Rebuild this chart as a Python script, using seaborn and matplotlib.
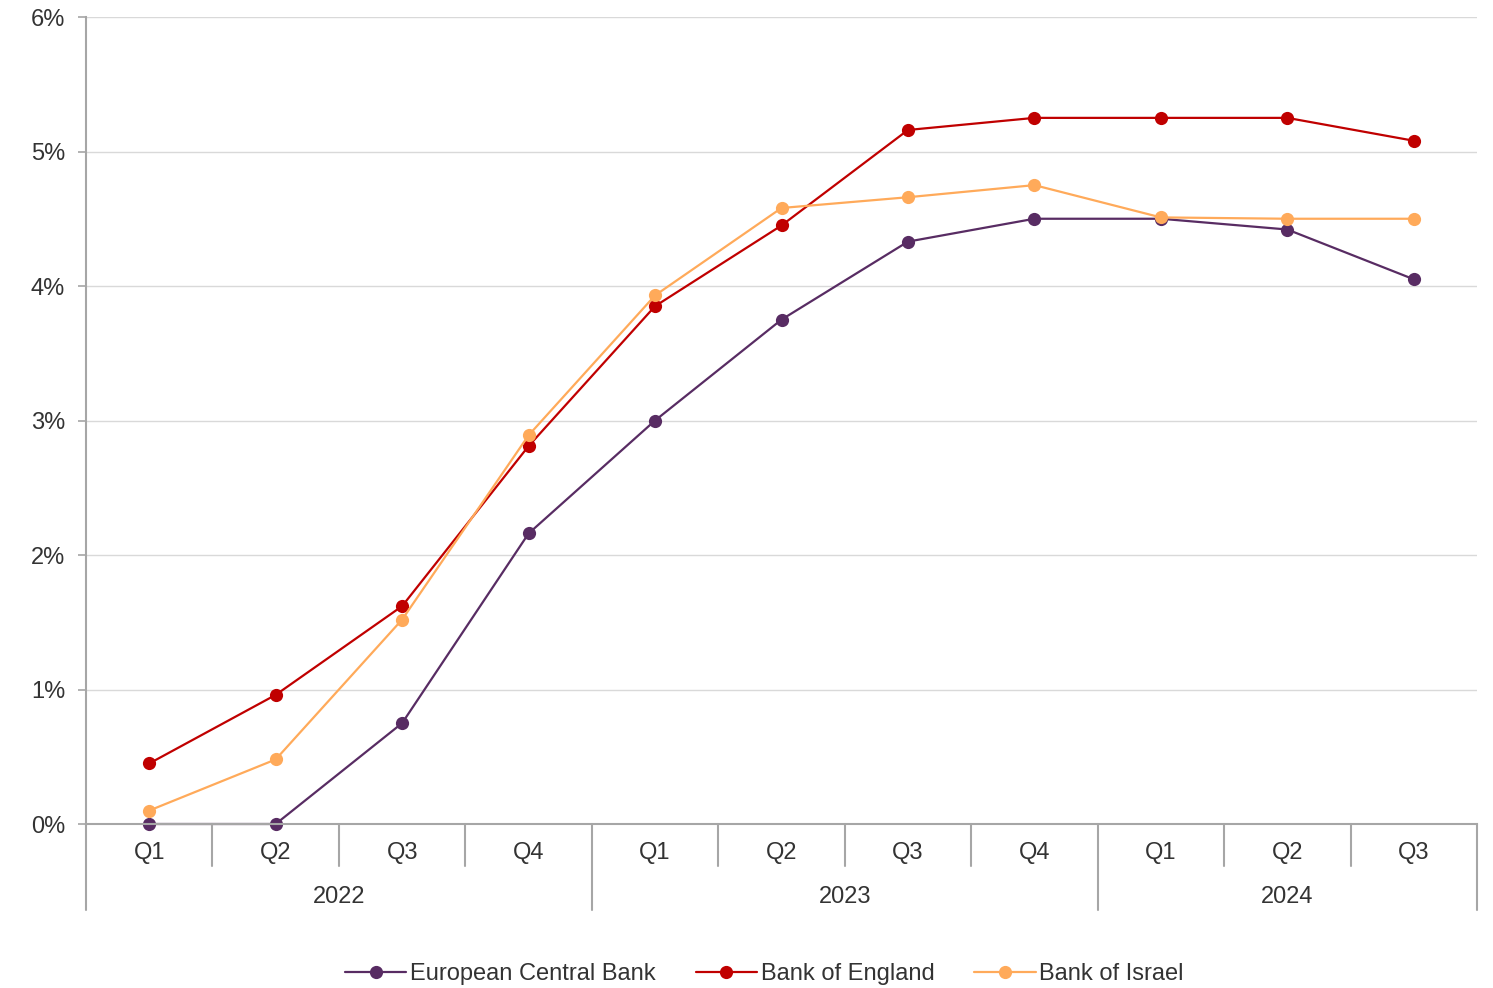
import numpy as np
import pandas as pd
import matplotlib
matplotlib.use('Agg')
import matplotlib.pyplot as plt
import seaborn as sns

# data
quarters = ['Q1', 'Q2', 'Q3', 'Q4', 'Q1', 'Q2', 'Q3', 'Q4', 'Q1', 'Q2', 'Q3']
years = ['2022', '2023', '2024']
year_spans = [4, 4, 3]
ecb = [0.00, 0.00, 0.75, 2.16, 3.00, 3.75, 4.33, 4.50, 4.50, 4.42, 4.05]
boe = [0.45, 0.96, 1.62, 2.81, 3.85, 4.45, 5.16, 5.25, 5.25, 5.25, 5.08]
boi = [0.10, 0.48, 1.52, 2.89, 3.93, 4.58, 4.66, 4.75, 4.51, 4.50, 4.50]
series_names = ['European Central Bank', 'Bank of England', 'Bank of Israel']
colors = ['#582C63', '#C00000', '#FFAA5A']

idx = np.arange(len(quarters))
df = pd.concat([
    pd.DataFrame({'x': idx, 'rate': vals, 'bank': name})
    for name, vals in zip(series_names, [ecb, boe, boi])
])

sns.set_style('white')
plt.rcParams['font.family'] = ['Liberation Sans', 'DejaVu Sans']
fs = 17

fig = plt.figure(figsize=(14.93, 9.88), dpi=100)
ax = fig.add_axes([86 / 1493, 1 - 824 / 988, (1477 - 86) / 1493, (824 - 17) / 988])

sns.lineplot(data=df, x='x', y='rate', hue='bank', palette=colors,
             marker='o', markersize=9.5, markeredgewidth=0, linewidth=1.6,
             ax=ax, legend=False)
for ln in ax.lines:
    ln.set_clip_on(False)

ax.set_xlim(-0.5, len(quarters) - 0.5)
ax.set_ylim(0, 6)
ax.set_yticks(range(0, 7))
ax.set_yticklabels([f'{v}%' for v in range(0, 7)], fontsize=fs, color='#333333')
ax.tick_params(axis='y', length=6, width=1.2, color='#A6A6A6', pad=9, left=True)
ax.set_xticks([])
ax.set_xlabel('')
ax.set_ylabel('')
ax.grid(axis='y', color='#D9D9D9', linewidth=1)
ax.set_axisbelow(True)
for s in ['top', 'right']:
    ax.spines[s].set_visible(False)
ax.spines['left'].set_color('#A6A6A6')
ax.spines['left'].set_linewidth(1.5)
ax.spines['bottom'].set_color('#A6A6A6')
ax.spines['bottom'].set_linewidth(1.5)

trans = ax.get_xaxis_transform()
# quarter labels
for i, q in enumerate(quarters):
    ax.text(i, -0.0365, q, transform=trans, ha='center', va='center',
            fontsize=fs, color='#333333')
# separators
year_edges = np.cumsum([0] + year_spans) - 0.5
for b in np.arange(len(quarters) + 1) - 0.5:
    low = -0.1066 if b in year_edges else -0.052
    ax.plot([b, b], [0, low], transform=trans, color='#A6A6A6',
            linewidth=1.5, clip_on=False)
# year labels
for k, y in enumerate(years):
    mid = (year_edges[k] + year_edges[k + 1]) / 2
    ax.text(mid, -0.091, y, transform=trans, ha='center', va='center',
            fontsize=fs, color='#333333')

handles = [plt.Line2D([], [], color=c, marker='o', markersize=9.5,
                      markeredgewidth=0, linewidth=1.6) for c in colors]
fig.legend(handles, series_names, loc='center', bbox_to_anchor=(0.512, 1 - 974 / 988),
           ncol=3, frameon=False, fontsize=fs, handlelength=2.6,
           handletextpad=0.15, columnspacing=1.7, labelcolor='#333333')

fig.savefig('out.png', dpi=100)
